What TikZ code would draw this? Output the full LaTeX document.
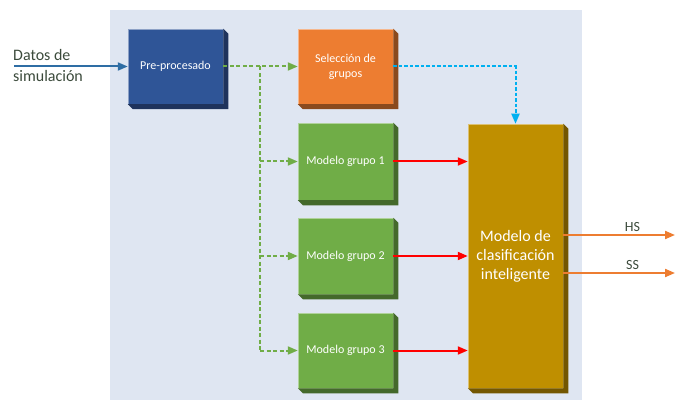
\documentclass[tikz,border=0pt]{standalone}
\usepackage{fontspec}
\setmainfont{Carlito}
\usetikzlibrary{calc, positioning}
\usetikzlibrary{arrows.meta}

\definecolor{panelbg}{HTML}{DFE6F2}
\definecolor{preblue}{HTML}{2F5597}
\definecolor{predark}{HTML}{1F335C}
\definecolor{selorange}{HTML}{ED7D31}
\definecolor{seldark}{HTML}{8A4A1E}
\definecolor{grpgreen}{HTML}{70AD47}
\definecolor{grpdark}{HTML}{44692B}
\definecolor{clsgold}{HTML}{BF8F00}
\definecolor{clsdark}{HTML}{735600}
\definecolor{inblue}{HTML}{2E6DA4}
\definecolor{flowblue}{HTML}{00B0F0}
\definecolor{labelgray}{HTML}{3B4A3B}

\tikzset{
  blk/.style={fill=#1, draw=#1!55!white, line width=0.5pt, minimum width=95pt,
    inner sep=2pt, text=white, align=center, font=\fontsize{12}{15}\selectfont},
  tip/.style={-{Triangle[length=10pt,width=8pt]}},
  greendash/.style={tip, draw=grpgreen, line width=2pt, dash pattern=on 4pt off 2.5pt},
  bluedash/.style={tip, draw=flowblue, line width=2pt, dash pattern=on 3.5pt off 2pt},
  redline/.style={tip, draw=red, line width=2pt},
  outline/.style={tip, draw=selorange, line width=2pt},
}

% side and bottom faces of a raised block
\newcommand{\slab}[2]{%
  \fill[#2] (#1.north east) -- ++(5,5) -- ($(#1.south east)+(5,5)$)
    -- ($(#1.south west)+(5,5)$) -- (#1.south west) -- (#1.south east) -- cycle;}

\begin{document}
\begin{tikzpicture}[x=1pt, y=-1pt]
\useasboundingbox (0,0) rectangle (684,403);
\fill[panelbg] (110,10) rectangle (582,400);

% blocks
\node[blk=preblue, minimum height=75pt] (pre) at (175.5,66.5) {Pre-procesado};
\node[blk=selorange, minimum height=75pt] (sel) at (345.5,66.5) {Selección de\\grupos};
\node[blk=grpgreen, minimum height=77pt] (g1) at (345.5,161.5) {Modelo grupo 1};
\node[blk=grpgreen, minimum height=76pt] (g2) at (345.5,256) {Modelo grupo 2};
\node[blk=grpgreen, minimum height=75pt] (g3) at (345.5,350.5) {Modelo grupo 3};
\node[blk=clsgold, minimum height=264pt, font=\fontsize{16}{19}\selectfont]
  (cls) at (515.5,256) {Modelo de\\clasificación\\inteligente};

\slab{pre}{predark}
\slab{sel}{seldark}
\slab{g1}{grpdark}
\slab{g2}{grpdark}
\slab{g3}{grpdark}
\slab{cls}{clsdark}

% input
\node[anchor=west, align=left, text=labelgray, inner sep=0pt,
  font=\fontsize{16}{21}\selectfont] (datos) at (13,65.5) {Datos de\\simulación};
\coordinate (din) at (14,66.5);
\draw[tip, draw=inblue, line width=2pt] (din) -- (pre.west);

% fan-out to the groups
\coordinate (jt) at (260,66.5);
\draw[greendash] (pre.east) -- (sel.west);
\draw[grpgreen, line width=2pt, dash pattern=on 4pt off 2.5pt] (jt) -- (jt |- g3.west);
\foreach \g in {g1,g2,g3}
  \draw[greendash] (jt |- \g.west) -- (\g.west);

\draw[bluedash] (sel.east) -| (cls.north);

\foreach \g in {g1,g2,g3}
  \draw[redline] (\g.east) -- (\g.east -| cls.west);

% outputs
\coordinate (hs) at (675,235);
\coordinate (ss) at (675,273);
\draw[outline] (cls.east |- hs) -- (hs) node[pos=0.62, above=-1pt, text=labelgray,
  font=\fontsize{14}{16}\selectfont] {HS};
\draw[outline] (cls.east |- ss) -- (ss) node[pos=0.62, above=-1pt, text=labelgray,
  font=\fontsize{14}{16}\selectfont] {SS};
\end{tikzpicture}
\end{document}
